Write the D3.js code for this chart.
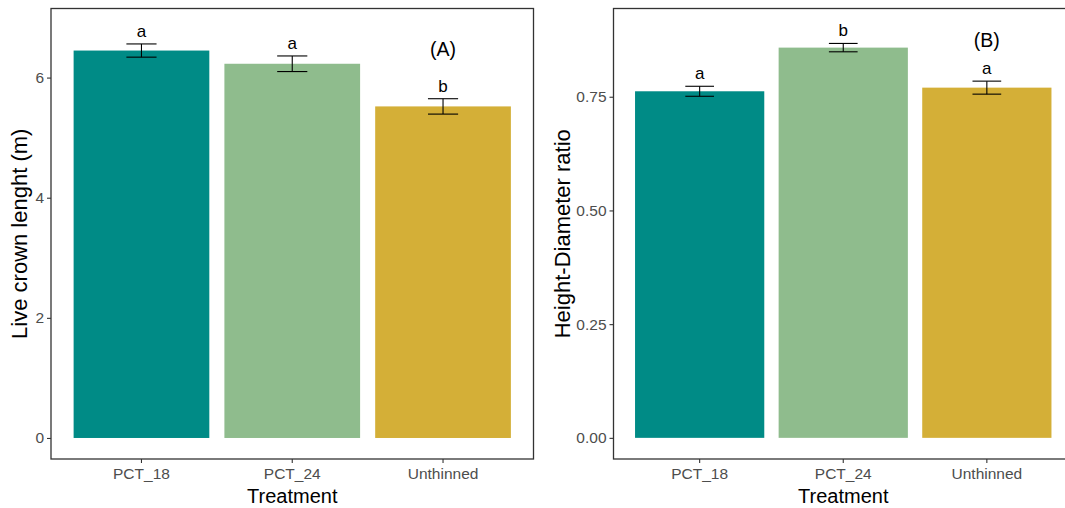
<!DOCTYPE html>
<html>
<head>
<meta charset="utf-8">
<script src="https://cdn.jsdelivr.net/npm/d3@7"></script>
<style>
  html, body { margin: 0; padding: 0; background: #fff; }
  svg { display: block; font-family: "Liberation Sans", Arial, sans-serif; }
</style>
</head>
<body>
<svg id="chart" width="1065" height="508"></svg>
<script>
// Treatments and colours
const treatments = ["PCT_18", "PCT_24", "Unthinned"];
const fills = ["#008B86", "#8FBC8D", "#D4AF37"];

// Panel A: live crown length (m), mean and standard error
const crownMean = [6.45, 6.23, 5.52];
const crownSE = [0.11, 0.13, 0.128];
const crownLetters = ["a", "a", "b"];
const crownTicks = [0, 2, 4, 6];

// Panel B: height-diameter ratio, mean and standard error
const hdMean = [0.762, 0.858, 0.770];
const hdSE = [0.011, 0.0092, 0.0143];
const hdLetters = ["a", "b", "a"];
const hdTicks = [0, 0.25, 0.5, 0.75];

const svg = d3.select("#chart");
svg.append("rect").attr("width", 1065).attr("height", 508).attr("fill", "#fff");

function panel(opts) {
  const { left, right, top, bottom, domain, ticks, fmt, means, ses, letters,
          tag, tagValue, yTitle, yTitleX } = opts;
  const g = svg.append("g");

  const x = d3.scaleBand().domain(treatments).range([left, right])
    .paddingInner(0.1).paddingOuter(0.15);
  const y = d3.scaleLinear().domain(domain).range([bottom, top]);
  const step = x.step();

  const rows = treatments.map((t, i) => ({ t, m: means[i], se: ses[i], lab: letters[i], fill: fills[i] }));

  // bars
  g.selectAll("rect.bar").data(rows).join("rect")
    .attr("class", "bar")
    .attr("x", d => x(d.t))
    .attr("width", x.bandwidth())
    .attr("y", d => y(d.m))
    .attr("height", d => y(0) - y(d.m))
    .attr("fill", d => d.fill);

  // error bars
  const eb = g.selectAll("g.err").data(rows).join("g").attr("class", "err")
    .attr("stroke", "#000").attr("stroke-width", 1.1).attr("fill", "none");
  const cx = d => x(d.t) + x.bandwidth() / 2;
  eb.append("line").attr("x1", cx).attr("x2", cx)
    .attr("y1", d => y(d.m + d.se)).attr("y2", d => y(d.m - d.se));
  eb.append("line").attr("x1", d => cx(d) - step * 0.1).attr("x2", d => cx(d) + step * 0.1)
    .attr("y1", d => y(d.m + d.se)).attr("y2", d => y(d.m + d.se));
  eb.append("line").attr("x1", d => cx(d) - step * 0.1).attr("x2", d => cx(d) + step * 0.1)
    .attr("y1", d => y(d.m - d.se)).attr("y2", d => y(d.m - d.se));

  // significance letters
  g.selectAll("text.lab").data(rows).join("text")
    .attr("class", "lab")
    .attr("x", cx)
    .attr("y", d => y(d.m + d.se) - 7)
    .attr("text-anchor", "middle")
    .attr("font-size", 17)
    .attr("fill", "#000")
    .text(d => d.lab);

  // panel tag
  g.append("text")
    .attr("x", x(treatments[2]) + x.bandwidth() / 2)
    .attr("y", y(tagValue))
    .attr("dy", "0.35em")
    .attr("text-anchor", "middle")
    .attr("font-size", 19.5)
    .attr("fill", "#000")
    .text(tag);

  // panel border
  g.append("rect")
    .attr("x", left).attr("y", top)
    .attr("width", right - left).attr("height", bottom - top)
    .attr("fill", "none").attr("stroke", "#333").attr("stroke-width", 1.3);

  // axes
  const ya = g.append("g").attr("transform", `translate(${left},0)`)
    .call(d3.axisLeft(y).tickValues(ticks).tickFormat(fmt).tickSize(4).tickPadding(3));
  const xa = g.append("g").attr("transform", `translate(0,${bottom})`)
    .call(d3.axisBottom(x).tickSize(4).tickPadding(5));
  [ya, xa].forEach(a => {
    a.select(".domain").remove();
    a.selectAll(".tick line").attr("stroke", "#333").attr("stroke-width", 1.1);
    a.selectAll(".tick text").attr("fill", "#4D4D4D").attr("font-size", 15.5)
      .attr("font-family", "Liberation Sans, Arial, sans-serif");
  });

  // axis titles
  g.append("text")
    .attr("x", x(treatments[1]) + x.bandwidth() / 2)
    .attr("y", 503)
    .attr("text-anchor", "middle")
    .attr("font-size", 20)
    .attr("fill", "#000")
    .text("Treatment");
  g.append("text")
    .attr("transform", `translate(${yTitleX},${(top + bottom) / 2}) rotate(-90)`)
    .attr("text-anchor", "middle")
    .attr("font-size", 22)
    .attr("fill", "#000")
    .text(yTitle);
}

panel({
  left: 51, right: 533.5, top: 8.5, bottom: 459,
  domain: [-0.35, 7.15], ticks: crownTicks, fmt: d3.format("d"),
  means: crownMean, ses: crownSE, letters: crownLetters,
  tag: "(A)", tagValue: 6.47, yTitle: "Live crown lenght (m)", yTitleX: 27
});

panel({
  left: 613.5, right: 1073, top: 8.5, bottom: 459,
  domain: [-0.0465, 0.944], ticks: hdTicks, fmt: d3.format(".2f"),
  means: hdMean, ses: hdSE, letters: hdLetters,
  tag: "(B)", tagValue: 0.875, yTitle: "Height-Diameter ratio", yTitleX: 570
});
</script>
</body>
</html>
